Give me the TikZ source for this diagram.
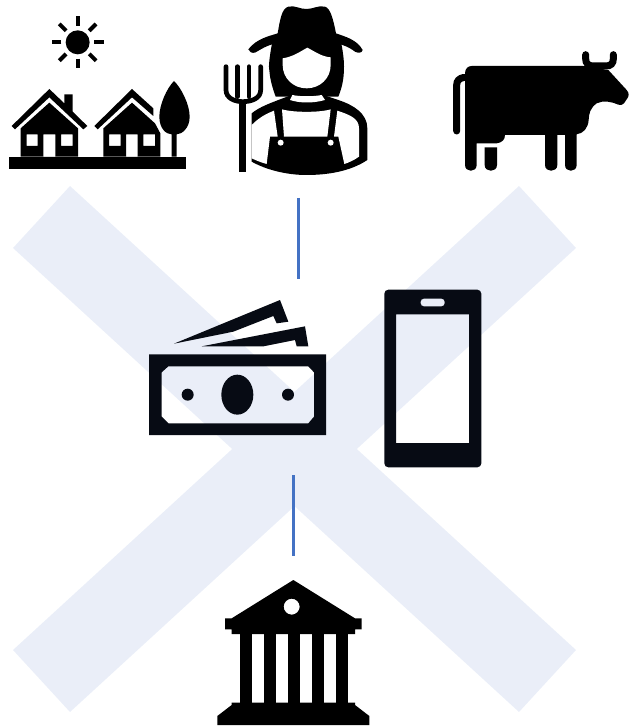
\documentclass[tikz,border=0pt]{standalone}
\usepackage{tikz}
\tikzset{
    crossband/.style={fill=crossblue},
    linkline/.style={draw=linkblue, line width=2.4pt},
    icon/.style={fill=black, even odd rule},
    darkicon/.style={fill=darknavy, even odd rule},
    hole/.style={fill=white},
    sunray/.style={line width=4pt},
    forktine/.style={line width=4.7pt, line cap=round},
    cowlimb/.style={line width=7pt, line cap=round},
}
\definecolor{crossblue}{HTML}{EAEEF8}
\definecolor{linkblue}{HTML}{4472C4}
\definecolor{darknavy}{HTML}{070B14}

\begin{document}
\begin{tikzpicture}[x=1pt,y=-1pt]
    \useasboundingbox (0,0) rectangle (629,727);
    % the cross behind everything
    \fill[crossband] (70,186) -- (576,650) -- (519,712) -- (13,248) -- cycle;
    \fill[crossband] (519,186) -- (576,248) -- (70,712) -- (13,650) -- cycle;
    % links
    \coordinate (farmerfoot) at (298.5,198);
    \coordinate (cashtop) at (298.5,279);
    \coordinate (cashfoot) at (293.4,475);
    \coordinate (banktop) at (293.4,556);
    \draw[linkline] (farmerfoot) -- (cashtop);
    \draw[linkline] (cashfoot) -- (banktop);
    % village
    \begin{scope}[scale=1/3]
        \fill[icon] (233,127) circle (36);
        \foreach \ang in {0,45,...,315}
            \draw[sunray] ({233+49*cos(\ang)},{127+49*sin(\ang)}) -- ({233+78*cos(\ang)},{127+78*sin(\ang)});
        \fill[icon] (28,470) rectangle (558,507);
        \fill[icon] (35,378) -- (148,267) -- (193,310) -- (193,283) -- (218,283) -- (218,335) -- (262,378) -- (250,388) -- (148,292) -- (45,388) -- cycle;
        \fill[icon] (148,308) -- (234,385) -- (234,470) -- (62,470) -- (62,385) -- cycle
            (80,403) rectangle (113,438) (183,403) rectangle (218,438) (130,403) rectangle (166,470);
        \fill[icon] (283,378) -- (396,267) -- (460,325) -- (460,348) -- (396,292) -- (293,388) -- cycle;
        \fill[icon] (396,308) -- (465,370) -- (481,400) -- (481,470) -- (310,470) -- (310,385) -- cycle
            (327,403) rectangle (362,438) (430,403) rectangle (465,438) (378,403) rectangle (413,470);
        \fill[icon] (522,243) .. controls (545,265) and (569,315) .. (569,350) .. controls (569,385) and (545,403) .. (530,403) -- (530,470) -- (515,470) -- (515,403) .. controls (498,403) and (478,385) .. (478,350) .. controls (478,315) and (500,265) .. (522,243) -- cycle;
    \end{scope}
    % farmer
    \begin{scope}[shift={(210,0)},scale=1/3]
        \fill[icon] (190,110) .. controls (178,170) and (175,200) .. (178,210) .. controls (180,240) and (188,265) .. (197,290) -- (385,290) .. controls (395,265) and (402,240) .. (402,200) .. controls (402,175) and (398,150) .. (390,110) -- cycle;
        \fill[icon] (115,148) .. controls (140,115) and (180,108) .. (203,100) .. controls (210,60) and (215,25) .. (235,20) .. controls (255,15) and (270,28) .. (290,27) .. controls (310,27) and (325,15) .. (345,20) .. controls (362,25) and (370,60) .. (378,100) .. controls (405,110) and (440,118) .. (458,150) .. controls (455,160) and (445,160) .. (435,155) .. controls (415,140) and (400,135) .. (380,130) -- (200,130) .. controls (170,135) and (150,150) .. (135,158) .. controls (125,160) and (118,156) .. (115,148) -- cycle;
        \fill[hole] (218,175) .. controls (250,170) and (270,155) .. (292,143) .. controls (315,155) and (335,170) .. (362,172) -- (362,195) .. controls (362,235) and (330,265) .. (290,265) .. controls (250,265) and (218,235) .. (218,195) -- cycle;
        \fill[icon] (125,340) .. controls (150,320) and (180,310) .. (205,300) -- (245,285) -- (340,285) -- (385,300) .. controls (430,315) and (472,340) .. (472,385) -- (472,480) .. controls (420,515) and (350,525) .. (290,525) .. controls (230,525) and (170,510) .. (125,485) -- cycle;
        \fill[hole] (125,375) .. controls (150,350) and (172,340) .. (192,332) -- (203,410) -- (180,410) -- (170,492) .. controls (155,488) and (140,482) .. (125,475) -- cycle;
        \fill[hole] (382,332) .. controls (420,345) and (447,355) .. (447,385) -- (447,470) .. controls (430,482) and (415,488) .. (403,492) -- (385,410) -- (372,410) -- cycle;
        \fill[hole] (216,328) .. controls (250,338) and (330,338) .. (362,328) -- (352,410) -- (222,410) -- cycle;
        \fill[hole] (247,285) .. controls (270,290) and (310,290) .. (335,285) -- (345,300) .. controls (310,310) and (270,310) .. (240,300) -- cycle;
        \fill[hole] (212,428) circle (9) (362,428) circle (9);
        \fill[icon] (88,300) rectangle (108,515);
        \draw[forktine] (48,200) -- (48,270) .. controls (48,295) and (75,305) .. (98,305) .. controls (125,305) and (152,295) .. (152,270) -- (152,200);
        \draw[forktine] (82,200) -- (82,290);
        \draw[forktine] (117,200) -- (117,290);
    \end{scope}
    % cow
    \begin{scope}[shift={(440,40)},scale=1/3]
        \fill[icon] (75,100) .. controls (75,85) and (85,78) .. (95,78) -- (430,78) -- (505,90) -- (560,150) .. controls (568,160) and (568,168) .. (560,178) -- (552,190) .. controls (548,196) and (540,196) .. (535,194) .. controls (515,185) and (490,180) .. (470,190) .. controls (450,205) and (447,220) .. (446,240) .. controls (444,265) and (430,280) .. (410,283) -- (410,375) .. controls (410,398) and (375,398) .. (375,375) -- (375,285) -- (352,285) -- (352,375) .. controls (352,398) and (315,398) .. (315,375) -- (315,285) -- (195,285) .. controls (195,300) and (185,308) .. (170,310) -- (110,310) -- (110,375) .. controls (110,398) and (75,398) .. (75,375) -- cycle;
        \fill[icon] (134,322) -- (171,322) -- (171,375) .. controls (171,398) and (134,398) .. (134,375) -- cycle;
        \draw[cowlimb] (437,44) -- (437,56) .. controls (437,71) and (445,78) .. (460,78) -- (498,78) .. controls (512,78) and (520,71) .. (520,56) -- (520,44);
        \draw[cowlimb] (72,112) .. controls (58,115) and (50,122) .. (50,135) -- (50,273);
    \end{scope}
    % cash and phone
    \begin{scope}[shift={(140,285)},scale=1/3]
        \fill[darkicon] (102,176) -- (420,45) -- (445,110) -- (410,115) -- (400,93) -- (280,140) -- cycle;
        \fill[darkicon] (185,184) -- (495,124) -- (505,184) -- (470,184) -- (465,165) -- (370,184) -- cycle;
        \fill[darkicon] (27,208) rectangle (558,450)
            (85,244) -- (505,244) -- (522,262) -- (522,395) -- (505,415) -- (85,415) -- (65,395) -- (65,262) -- cycle;
        \fill[darkicon] (292,329) ellipse (48 and 60);
        \fill[darkicon] (143,329) circle (18) (444,329) circle (18);
        \fill[darkicon] [rounded corners=4pt] (733,14) rectangle (1024,547)
            [sharp corners] (768,88) rectangle (987,474)
            [rounded corners=3pt] (842,41) rectangle (914,64);
    \end{scope}
    % bank
    \begin{scope}[shift={(210,570)},scale=1/3]
        \fill[icon] (250,30) -- (435,145) -- (455,145) -- (455,178) -- (435,178) -- (435,192) -- (65,192) -- (65,178) -- (45,178) -- (45,145) -- (65,145) -- cycle
            (245,110) circle (24);
        \foreach \cx in {107,180,251,324,396}
            \fill[icon] (\cx-18,190) rectangle (\cx+18,402);
        \fill[icon] (65,398) -- (435,398) -- (435,405) -- (478,438) -- (478,465) -- (22,465) -- (22,438) -- (65,405) -- cycle;
    \end{scope}
\end{tikzpicture}
\end{document}
